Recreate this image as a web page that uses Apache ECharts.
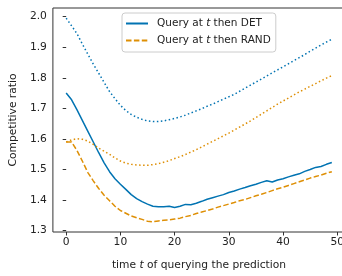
<!DOCTYPE html>
<html>
<head>
<meta charset="UTF-8">
<title></title>
<script src="https://cdn.jsdelivr.net/npm/echarts@6/dist/echarts.min.js"></script>
</head>
<body style="margin:0;overflow:hidden">
<div id="chart" style="width:347px;height:276px;"></div>
<script>
// t = 0 .. 49
var times = [];
for (var i = 0; i < 50; i++) times.push(i);

// query at t then DET (solid) and its dotted companion
var detSolid = [1.750, 1.728, 1.695, 1.660, 1.625, 1.590, 1.555, 1.522, 1.493, 1.470,
  1.452, 1.435, 1.418, 1.405, 1.395, 1.387, 1.380, 1.378, 1.378, 1.380,
  1.376, 1.380, 1.386, 1.385, 1.390, 1.396, 1.403, 1.408, 1.413, 1.418,
  1.425, 1.430, 1.436, 1.441, 1.447, 1.452, 1.458, 1.463, 1.459, 1.466,
  1.470, 1.476, 1.481, 1.486, 1.494, 1.500, 1.507, 1.510, 1.517, 1.523];
var detDotted = [1.995, 1.970, 1.944, 1.910, 1.877, 1.845, 1.815, 1.785, 1.755, 1.732,
  1.710, 1.693, 1.680, 1.671, 1.664, 1.659, 1.657, 1.657, 1.659, 1.663,
  1.667, 1.672, 1.678, 1.685, 1.692, 1.699, 1.707, 1.714, 1.722, 1.730,
  1.738, 1.746, 1.756, 1.766, 1.776, 1.786, 1.796, 1.806, 1.816, 1.826,
  1.836, 1.846, 1.856, 1.866, 1.876, 1.887, 1.897, 1.907, 1.917, 1.926];

// query at t then RAND (dashed) and its dotted companion
var randDashed = [1.590, 1.590, 1.562, 1.527, 1.490, 1.463, 1.438, 1.416, 1.398, 1.380,
  1.366, 1.357, 1.348, 1.342, 1.337, 1.331, 1.329, 1.332, 1.334, 1.335,
  1.338, 1.341, 1.346, 1.350, 1.356, 1.361, 1.366, 1.371, 1.377, 1.382,
  1.387, 1.392, 1.398, 1.402, 1.408, 1.414, 1.419, 1.425, 1.431, 1.437,
  1.442, 1.448, 1.454, 1.460, 1.466, 1.472, 1.477, 1.482, 1.488, 1.493];
var randDotted = [1.590, 1.597, 1.601, 1.599, 1.593, 1.582, 1.570, 1.560, 1.550, 1.538,
  1.528, 1.521, 1.517, 1.515, 1.514, 1.514, 1.516, 1.519, 1.524, 1.529,
  1.536, 1.542, 1.549, 1.557, 1.565, 1.574, 1.583, 1.592, 1.601, 1.610,
  1.619, 1.629, 1.639, 1.649, 1.659, 1.670, 1.681, 1.692, 1.703, 1.714,
  1.724, 1.734, 1.744, 1.754, 1.763, 1.772, 1.781, 1.790, 1.799, 1.807];

var xTicks = [0, 10, 20, 30, 40, 50];
var yTicks = [1.3, 1.4, 1.5, 1.6, 1.7, 1.8, 1.9, 2.0];

var blue = '#0173b2', orange = '#de8f05';
var font = 'DejaVu Sans';
var fs = 10.7;

function pairs(ys) {
  return times.map(function (t, k) { return [t, ys[k]]; });
}

function line(name, ys, color, type) {
  return {
    name: name,
    type: 'line',
    data: pairs(ys),
    symbol: 'none',
    lineStyle: {color: color, width: 1.5, type: type},
    itemStyle: {color: color}
  };
}

var chart = echarts.init(document.getElementById('chart'));
chart.setOption({
  animation: false,
  grid: {left: 51, top: 8, right: 0, bottom: 34, show: true, borderColor: '#333', borderWidth: 1},
  legend: {
    orient: 'vertical',
    left: 122, top: 13,
    padding: [5, 5, 6, 3],
    itemGap: 6,
    itemWidth: 22, itemHeight: 10,
    borderColor: '#ccc', borderWidth: 1, borderRadius: 3,
    backgroundColor: 'rgba(255,255,255,0.8)',
    itemStyle: {opacity: 0},
    data: ['DET', 'RAND'],
    formatter: function (n) { return 'Query at {i|t} then ' + n; },
    textStyle: {
      fontFamily: font, fontSize: 10.5, color: '#222', padding: [0, 0, 0, 4],
      rich: {i: {fontFamily: font, fontSize: 10.5, fontStyle: 'italic', color: '#222'}}
    }
  },
  xAxis: {
    type: 'value', min: -2.45, max: 51.45,
    splitLine: {show: false},
    axisLine: {show: false},
    axisTick: {show: true, length: 3.5, customValues: xTicks, lineStyle: {color: '#333'}},
    axisLabel: {customValues: xTicks, fontFamily: font, fontSize: fs, color: '#222', margin: 5},
    name: 'time {i|t} of querying the prediction',
    nameLocation: 'middle', nameGap: 28,
    nameTextStyle: {
      fontFamily: font, fontSize: fs, color: '#222',
      rich: {i: {fontFamily: font, fontSize: fs, fontStyle: 'italic', color: '#222'}}
    }
  },
  yAxis: {
    type: 'value', min: 1.2957, max: 2.0283,
    splitLine: {show: false},
    axisLine: {show: false},
    axisTick: {show: true, length: 3.5, customValues: yTicks, lineStyle: {color: '#333'}},
    axisLabel: {customValues: yTicks, fontFamily: font, fontSize: fs, color: '#222', margin: 6,
      formatter: function (v) { return v.toFixed(1); }},
    name: 'Competitive ratio',
    nameLocation: 'middle', nameGap: 27,
    nameTextStyle: {fontFamily: font, fontSize: fs, color: '#222'}
  },
  series: [
    line('DET', detSolid, blue, 'solid'),
    line('RAND', randDashed, orange, [5.5, 2.4]),
    line('DET dotted', detDotted, blue, [1.5, 2.5]),
    line('RAND dotted', randDotted, orange, [1.5, 2.5])
  ]
});
</script>
</body>
</html>
